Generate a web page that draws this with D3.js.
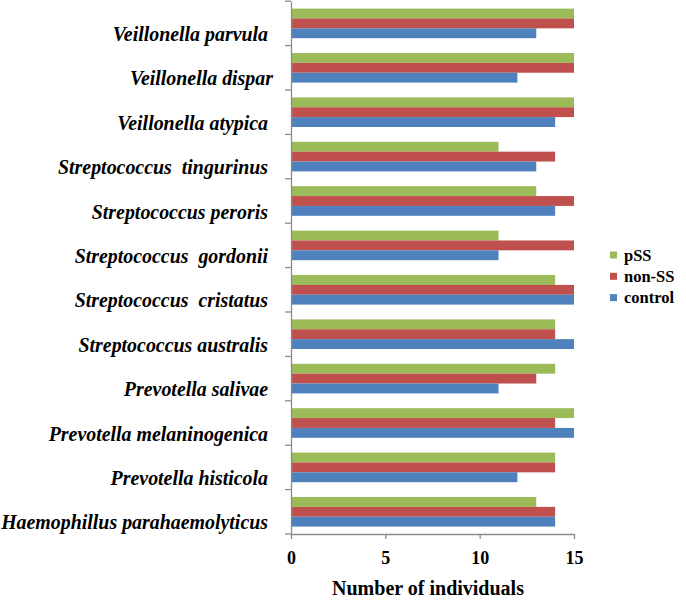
<!DOCTYPE html>
<html><head><meta charset="utf-8">
<script src="https://cdn.jsdelivr.net/npm/d3@7"></script>
<style>
html,body{margin:0;padding:0;background:#fff;}
svg{display:block;}
text{font-family:"Liberation Serif","Times New Roman",serif !important;font-weight:bold;}
</style></head>
<body>
<script>
const categories = [
  "Veillonella parvula ",
  "Veillonella dispar",
  "Veillonella atypica ",
  "Streptococcus  tingurinus ",
  "Streptococcus peroris ",
  "Streptococcus  gordonii ",
  "Streptococcus  cristatus ",
  "Streptococcus australis ",
  "Prevotella salivae ",
  "Prevotella melaninogenica ",
  "Prevotella histicola ",
  "Haemophillus parahaemolyticus "
];
const seriesNames = ["pSS", "non-SS", "control"];
const pSS     = [15, 15, 15, 11, 13, 11, 14, 14, 14, 15, 14, 13];
const nonSS   = [15, 15, 15, 14, 15, 15, 15, 14, 13, 14, 14, 14];
const control = [13, 12, 14, 13, 14, 11, 15, 15, 11, 15, 12, 14];
const xTicks = [0, 5, 10, 15];
const xTitle = "Number of individuals";
const colors = ["#9BBB59", "#C0504D", "#4F81BD"];
const seriesValues = [pSS, nonSS, control];

const W = 686, H = 602;
const svg = d3.select("body").append("svg").attr("width", W).attr("height", H);

const x0 = 291, x1 = 574, yTop = 1.2, yBot = 534;
const x = d3.scaleLinear().domain([0, 15]).range([x0, x1]);
const y = d3.scaleBand().domain(categories).range([yTop, yBot]).paddingInner(0).paddingOuter(0);
const bw = y.bandwidth();
const inner = d3.scaleBand().domain(seriesNames).range([0, bw]).paddingInner(0).paddingOuter(0.75);

// bars
seriesNames.forEach((s, si) => {
  svg.append("g").selectAll("rect").data(categories).join("rect")
    .attr("x", x(0))
    .attr("y", c => y(c) + inner(s))
    .attr("width", (c, i) => x(seriesValues[si][i]) - x(0))
    .attr("height", inner.bandwidth())
    .attr("fill", colors[si]);
});

const axisColor = "#8c8c8c";
// y axis
const gy = svg.append("g").attr("transform", `translate(${x0},0)`)
  .call(d3.axisLeft(y).tickSize(0).tickFormat(""));
gy.select(".domain").attr("stroke", axisColor).attr("stroke-width", 1.3);
const yBoundaries = d3.range(categories.length + 1).map(i => yTop + i * bw);
svg.append("g").selectAll("line").data(yBoundaries).join("line")
  .attr("x1", x0 - 6).attr("x2", x0).attr("y1", d => d).attr("y2", d => d)
  .attr("stroke", axisColor).attr("stroke-width", 1.3);

// y labels
svg.append("g").selectAll("text").data(categories).join("text")
  .attr("x", 273)
  .attr("y", c => y(c) + bw / 2 + 17.5)
  .attr("text-anchor", "end")
  .style("white-space", "pre")
  .attr("xml:space", "preserve")
  .style("font-style", "italic")
  .style("font-size", "19.9px")
  .attr("fill", "#000")
  .text(c => c);

// x axis
const gx = svg.append("g").attr("transform", `translate(0,${yBot})`)
  .call(d3.axisBottom(x).tickValues(xTicks).tickSize(5).tickSizeOuter(0).tickPadding(12));
gx.attr("font-family", null).attr("font-size", null);
gx.select(".domain").attr("stroke", axisColor).attr("stroke-width", 1.3);
gx.selectAll(".tick line").attr("stroke", axisColor).attr("stroke-width", 1.3);
gx.selectAll(".tick text")
  .attr("fill", "#000")
  .style("font-weight", "bold")
  .style("font-size", "18px");

svg.append("text")
  .attr("x", 428).attr("y", 595)
  .attr("text-anchor", "middle")
  .style("font-size", "20px")
  .text(xTitle);

// legend
const lg = svg.append("g");
seriesNames.forEach((s, i) => {
  const cy = 255 + i * 21.3;
  lg.append("rect").attr("x", 610).attr("y", cy - 3.5).attr("width", 7).attr("height", 7).attr("fill", colors[i]);
  lg.append("text").attr("x", 624).attr("y", cy + 5.5).style("font-size", "16.5px").text(s);
});
</script>
</body></html>
